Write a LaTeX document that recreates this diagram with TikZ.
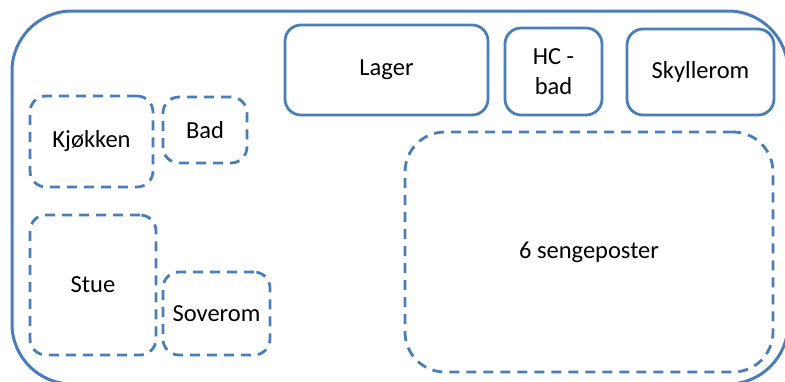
\documentclass[tikz,border=0pt]{standalone}
\usepackage{fontspec}
\setmainfont{Carlito}
\definecolor{ofblue}{RGB}{74,126,187}
\tikzset{
  room/.style={draw=ofblue, line width=2.8pt, rectangle, rounded corners=16pt,
    font=\fontsize{24.5}{30}\selectfont, text=black, inner sep=0pt, align=center},
  solidroom/.style={room},
  dashroom/.style={room, dash pattern=on 10pt off 7pt},
  housebox/.style={draw=ofblue, line width=3pt, rectangle, rounded corners=60pt, inner sep=0pt}
}
\begin{document}
\begin{tikzpicture}[x=1pt,y=-1pt]
\useasboundingbox (0,0) rectangle (785,381);
\clip (0,0) rectangle (785,381);
\node[housebox, minimum width=776pt, minimum height=373pt] (house) at (400,197.5) {};
\node[solidroom, minimum width=203pt, minimum height=90pt] (lager) at (386.5,70) {Lager};
\node[solidroom, minimum width=97pt, minimum height=87pt] (hcbad) at (553.5,71.5) {HC -\\bad};
\node[solidroom, minimum width=147pt, minimum height=86pt] (skyllerom) at (700.5,72) {Skyllerom};
\node[dashroom, minimum width=123pt, minimum height=91pt] (kjokken) at (91.5,141.5) {Kjøkken};
\node[dashroom, minimum width=84pt, minimum height=66pt] (bad) at (205,130) {Bad};
\node[dashroom, minimum width=126pt, minimum height=140pt] (stue) at (93,285) {Stue};
\node[dashroom, minimum width=107pt, minimum height=83pt] (soverom) at (216.5,313.5) {Soverom};
\node[dashroom, rounded corners=40pt, minimum width=368pt, minimum height=240pt] (seng) at (589,252) {6 sengeposter};
\end{tikzpicture}
\end{document}
